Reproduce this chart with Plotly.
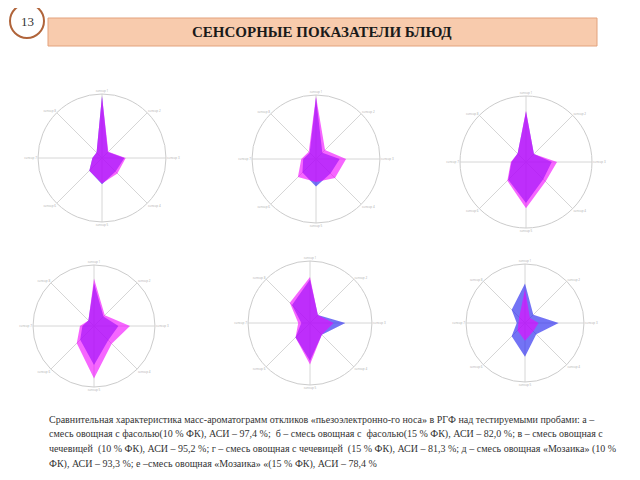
import plotly.graph_objects as go

# axes of the radar (8 sensors), labels too small to read in the source
sensors = ["сенсор 1", "сенсор 2", "сенсор 3", "сенсор 4",
           "сенсор 5", "сенсор 6", "сенсор 7", "сенсор 8"]

# blue series (drawn first) and magenta series (drawn on top), per panel а..е
blue_a = [97, 13, 35, 30, 41, 28, 15, 12]
mag_a = [97, 14, 37, 34, 40, 28, 15, 12]
blue_b = [96, 14, 37, 32, 43, 30, 20, 14]
mag_b = [98, 20, 47, 42, 36, 40, 23, 16]
blue_c = [76, 17, 39, 37, 62, 38, 22, 18]
mag_c = [78, 17, 47, 42, 70, 40, 23, 18]
blue_d = [70, 22, 40, 33, 64, 32, 19, 13]
mag_d = [78, 25, 59, 41, 86, 40, 23, 13]
blue_e = [70, 18, 57, 27, 61, 33, 14, 41]
mag_e = [74, 18, 38, 27, 67, 33, 19, 46]
blue_f = [67, 20, 57, 27, 57, 32, 14, 32]
mag_f = [57, 12, 23, 20, 30, 18, 11, 14]

panels = [(blue_a, mag_a), (blue_b, mag_b), (blue_c, mag_c),
          (blue_d, mag_d), (blue_e, mag_e), (blue_f, mag_f)]

# panel centres and radii in window pixels (x, y from top, r)
places = [(102, 158, 64), (316, 159, 64), (526, 162, 66),
          (94, 326, 61), (310, 323, 62), (525, 323, 59)]

title = "СЕНСОРНЫЕ ПОКАЗАТЕЛИ БЛЮД"
caption = [
    "Сравнительная характеристика масс-ароматограмм откликов «пьезоэлектронно-го носа» в РГФ над тестируемыми пробами: а –",
    "смесь овощная с фасолью(10 % ФК), АСИ – 97,4 %;  б – смесь овощная с  фасолью(15 % ФК), АСИ – 82,0 %; в – смесь овощная с",
    "чечевицей  (10 % ФК), АСИ – 95,2 %; г – смесь овощная с чечевицей  (15 % ФК), АСИ – 81,3 %; д – смесь овощная «Мозаика» (10 %",
    "ФК), АСИ – 93,3 %; е –смесь овощная «Мозаика» «(15 % ФК), АСИ – 78,4 %",
]

# page body has an 8px margin, so the figure is shrunk and coordinates shifted
PAD = 8
W, H = 640 - 2 * PAD, 480 - 2 * PAD


def px(x):
    return (x - PAD) / W


def py(y):
    return 1 - (y - PAD) / H


serif = "Liberation Serif, Times New Roman, serif"
fig = go.Figure()

for i, (blue, mag) in enumerate(panels):
    name = "polar" if i == 0 else "polar%d" % (i + 1)
    for vals, col in ((blue, "rgba(40,40,240,0.65)"), (mag, "rgba(240,0,255,0.6)")):
        fig.add_trace(go.Scatterpolar(
            r=vals + vals[:1], theta=sensors + sensors[:1],
            fill="toself", fillcolor=col, mode="lines",
            line=dict(width=0), subplot=name, showlegend=False,
        ))
    cx, cy, r = places[i]
    fig.update_layout({name: dict(
        domain=dict(x=[px(cx - r), px(cx + r)], y=[py(cy + r), py(cy - r)]),
        bgcolor="white",
        radialaxis=dict(range=[0, 100], showgrid=False, showline=False,
                        showticklabels=False, ticks=""),
        angularaxis=dict(rotation=90, direction="clockwise",
                         gridcolor="#d6d6d6", linecolor="#cccccc",
                         tickfont=dict(size=3, color="#aaaaaa"), ticks=""),
    )})

# slide number circle and title bar
fig.add_shape(type="circle", xref="paper", yref="paper",
              x0=px(10), x1=px(44), y0=py(38), y1=py(4),
              line=dict(color="#b0643a", width=2), fillcolor="white")
fig.add_annotation(x=px(27), y=py(21), xref="paper", yref="paper",
                   text="13", showarrow=False, xanchor="center", yanchor="middle",
                   font=dict(family=serif, size=13, color="#333333"))
fig.add_shape(type="rect", xref="paper", yref="paper",
              x0=px(48), x1=px(597), y0=py(46), y1=py(18),
              line=dict(color="#e3a27c", width=1), fillcolor="#f8cbad")
fig.add_annotation(x=px(322), y=py(32), xref="paper", yref="paper",
                   text="<b>" + title + "</b>", showarrow=False,
                   xanchor="center", yanchor="middle",
                   font=dict(family=serif, size=15, color="#1a1a1a"))

for k, line in enumerate(caption):
    fig.add_annotation(x=px(47), y=py(419 + 15 * k), xref="paper", yref="paper",
                       text=line, showarrow=False, xanchor="left", yanchor="middle",
                       font=dict(family=serif, size=10, color="#333333"))

fig.update_layout(width=W, height=H, margin=dict(l=0, r=0, t=0, b=0),
                  paper_bgcolor="white", plot_bgcolor="white")

fig.write_html("out.html")
